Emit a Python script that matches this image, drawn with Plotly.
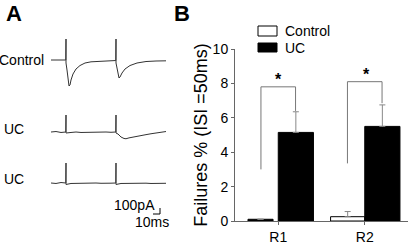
import plotly.graph_objects as go

W, H = 408, 246
FONT = "Arial, Liberation Sans, sans-serif"

# ---------------- data ----------------
# Panel A: example traces (time in ms, current in pA, baseline = 0)
ctrl_t = [0, 14.8, 15, 15, 16, 17, 18, 19, 20, 22, 25, 29, 34, 40, 50, 64.8, 65, 65, 66, 67, 68, 69, 71, 74, 79, 86, 95, 105, 115]
ctrl_i = [0, 0, 357, -51, -170, -323, -442, -425, -340, -238, -153, -94, -51, -31, -17, -9, 357, -51, -136, -238, -306, -289, -221, -153, -94, -51, -26, -17, -14]

uc1_t = [0, 5, 10, 14.8, 15, 15, 20, 25, 30, 35, 40, 45, 50, 55, 60, 64.8, 65, 65, 67, 70, 73, 75, 78, 82, 86, 90, 95, 100, 105, 110, 115]
uc1_i = [0, 8, -8, 0, 289, -17, -8, 0, -8, -5, -10, -3, -8, 0, -5, 0, 289, -17, -34, -85, -110, -115, -100, -85, -68, -55, -45, -30, -17, -5, 8]

uc2_t = [0, 5, 10, 14.8, 15, 15, 20, 25, 30, 35, 40, 45, 50, 55, 60, 64.8, 65, 65, 70, 75, 80, 85, 90, 95, 100, 105, 110, 115]
uc2_i = [0, -8, 8, 0, 340, -25, -8, -5, -10, -3, -8, 0, -5, -8, -3, 0, 340, -25, -8, -5, -10, -5, -8, -3, -8, -5, -8, -5]

trace_labels = ["Control", "UC", "UC"]

# Panel B: failures (%)
categories = ["R1", "R2"]
control_vals = [0.1, 0.25]
control_err = [0.0, 0.3]
uc_vals = [5.15, 5.5]
uc_err = [1.2, 1.25]
y_ticks = [0, 2, 4, 6, 8, 10]


def px(x, y):
    """pixel -> paper"""
    return x / W, 1 - y / H


fig = go.Figure()

# ---------------- Panel A traces ----------------
trace_axes = [("x2", "y2"), ("x3", "y3"), ("x4", "y4")]
for (t, i), (xa, ya) in zip([(ctrl_t, ctrl_i), (uc1_t, uc1_i), (uc2_t, uc2_i)], trace_axes):
    fig.add_trace(go.Scatter(x=t, y=i, xaxis=xa, yaxis=ya, mode="lines",
                             line=dict(color="#333", width=1), showlegend=False,
                             hoverinfo="skip"))

tx0, tx1 = px(51, 0)[0], px(166, 0)[0]
hidden = dict(visible=False, fixedrange=True, automargin=False)
fig.update_layout(
    xaxis2=dict(domain=[tx0, tx1], range=[0, 115], anchor="y2", **hidden),
    xaxis3=dict(domain=[tx0, tx1], range=[0, 115], anchor="y3", **hidden),
    xaxis4=dict(domain=[tx0, tx1], range=[0, 115], anchor="y4", **hidden),
    yaxis2=dict(domain=[px(0, 95)[1], px(0, 30)[1]], range=[-595, 510], anchor="x2", **hidden),
    yaxis3=dict(domain=[px(0, 158)[1], px(0, 105)[1]], range=[-442, 459], anchor="x3", **hidden),
    yaxis4=dict(domain=[px(0, 203)[1], px(0, 158)[1]], range=[-340, 425], anchor="x4", **hidden),
)

annotations = []
shapes = []
# trace labels
for lab, (lx, ly) in zip(trace_labels, [(46, 60), (26, 129), (26, 179)]):
    ax_, ay_ = px(lx, ly)
    annotations.append(dict(text=lab, x=ax_, y=ay_, xref="paper", yref="paper",
                            xanchor="right", yanchor="middle", showarrow=False,
                            font=dict(family=FONT, size=14, color="black")))
# scale bar
sx0, sy0 = px(153, 214)
sx1, sy1 = px(160, 208)
shapes.append(dict(type="line", xref="paper", yref="paper", x0=sx0, x1=sx1, y0=sy0, y1=sy0,
                   line=dict(color="black", width=1)))
shapes.append(dict(type="line", xref="paper", yref="paper", x0=sx1, x1=sx1, y0=sy0, y1=sy1,
                   line=dict(color="black", width=1)))
a, b = px(157, 205)
annotations.append(dict(text="100pA", x=a, y=b, xref="paper", yref="paper", xanchor="right",
                        yanchor="middle", showarrow=False, font=dict(family=FONT, size=14, color="black")))
a, b = px(171, 222)
annotations.append(dict(text="10ms", x=a, y=b, xref="paper", yref="paper", xanchor="right",
                        yanchor="middle", showarrow=False, font=dict(family=FONT, size=14, color="black")))
# panel letters
for lab, (lx, ly) in zip(["A", "B"], [(4, 14), (172, 14)]):
    a, b = px(lx, ly)
    annotations.append(dict(text="<b>" + lab + "</b>", x=a, y=b, xref="paper", yref="paper",
                            xanchor="left", yanchor="middle", showarrow=False,
                            font=dict(family=FONT, size=22, color="black")))

# ---------------- Panel B bars ----------------
xpos = list(range(len(categories)))
fig.add_trace(go.Bar(
    x=xpos, y=control_vals, name="Control",
    width=[0.29, 0.395], offset=[-0.35, -0.395],
    marker=dict(color=["black", "white"], line=dict(color="black", width=1)),
    error_y=dict(type="data", array=control_err, symmetric=False, arrayminus=[0, 0],
                 color="#888", thickness=1, width=3, visible=True),
    showlegend=False, xaxis="x", yaxis="y"))
fig.add_trace(go.Bar(
    x=xpos, y=uc_vals, name="UC",
    width=0.407, offset=0,
    marker=dict(color="black", line=dict(color="black", width=1)),
    error_y=dict(type="data", array=uc_err, symmetric=False, arrayminus=[0, 0],
                 color="#888", thickness=1, width=3, visible=True),
    showlegend=False, xaxis="x", yaxis="y"))

bx0, bx1 = px(235, 0)[0], px(408, 0)[0]
by0, by1 = px(0, 221)[1], px(0, 49)[1]
fig.update_layout(
    barmode="overlay",
    xaxis=dict(domain=[bx0, bx1], range=[-0.5, 1.5], tickvals=xpos, ticktext=categories,
               showline=True, linecolor="#666", linewidth=1, ticks="outside", ticklen=3,
               tickcolor="#666", showgrid=False, zeroline=False, fixedrange=True, automargin=False,
               tickfont=dict(family=FONT, size=14, color="black"), anchor="y"),
    yaxis=dict(domain=[by0, by1], range=[0, 10], tickvals=y_ticks,
               showline=True, linecolor="#666", linewidth=1, ticks="outside", ticklen=3,
               tickcolor="#666", showgrid=False, zeroline=False, fixedrange=True, automargin=False,
               tickfont=dict(family=FONT, size=14, color="black"), anchor="x",
               title=dict(text="Failures % (ISI =50ms)", font=dict(family=FONT, size=18, color="black"),
                          standoff=0)),
)

# significance brackets (data coords)
def bracket(xl, xr, yl, ytop, yr):
    for x0_, y0_, x1_, y1_ in [(xl, yl, xl, ytop), (xl, ytop, xr, ytop), (xr, ytop, xr, yr)]:
        shapes.append(dict(type="line", xref="x", yref="y", x0=x0_, y0=y0_, x1=x1_, y1=y1_,
                           line=dict(color="#777", width=1)))

bracket(-0.2, 0.2, 3.0, 7.8, 6.4)
bracket(1 - 0.2, 1 + 0.2, 3.35, 8.1, 6.85)
for cx, cy in [(0, 8.2), (1.02, 8.5)]:
    annotations.append(dict(text="<b>*</b>", x=cx, y=cy, xref="x", yref="y", showarrow=False,
                            yanchor="middle", font=dict(family=FONT, size=16, color="black")))

# manual legend
for lab, fill, (y0p, y1p) in [("Control", "white", (26, 36)), ("UC", "black", (43, 52))]:
    a0, b0 = px(258, y1p)
    a1, b1 = px(277, y0p)
    shapes.append(dict(type="rect", xref="paper", yref="paper", x0=a0, x1=a1, y0=b0, y1=b1,
                       fillcolor=fill, line=dict(color="black", width=1)))
    a, b = px(283, (y0p + y1p) / 2)
    annotations.append(dict(text=lab, x=a, y=b, xref="paper", yref="paper", xanchor="left",
                            yanchor="middle", showarrow=False,
                            font=dict(family=FONT, size=14, color="black")))

fig.update_layout(
    width=W, height=H, margin=dict(l=0, r=0, t=0, b=0, autoexpand=False),
    paper_bgcolor="white", plot_bgcolor="white",
    annotations=annotations, shapes=shapes, showlegend=False,
    font=dict(family=FONT, color="black"),
)

fig.write_html("out.html", config={"displayModeBar": False},
               post_script="document.body.style.margin='0';document.body.style.padding='0';"
                           "document.body.style.overflow='hidden';")
